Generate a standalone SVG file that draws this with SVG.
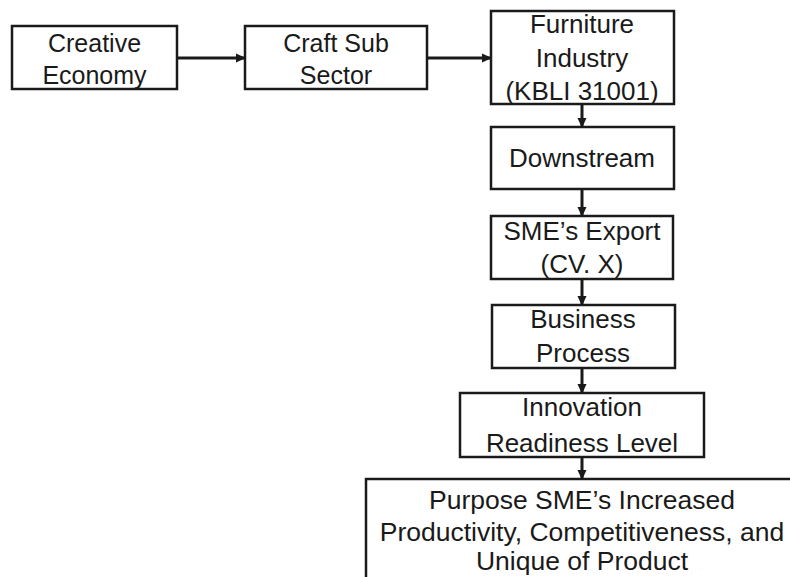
<svg xmlns="http://www.w3.org/2000/svg" width="790" height="577" viewBox="0 0 790 577">
<defs>
<style>
.box{fill:#fff;stroke:#1a1a1a;stroke-width:2.5}
.t{font-family:"Liberation Sans",Arial,sans-serif;font-size:26px;fill:#1a1a1a;text-anchor:middle}
.s{font-size:25px}
.b{font-size:26.5px}
.c{stroke:#1a1a1a;stroke-width:3;fill:none;marker-end:url(#ah)}
</style>
<marker id="ah" markerWidth="10" markerHeight="10" refX="9" refY="5" orient="auto" markerUnits="userSpaceOnUse">
<path d="M0,0.5 L10,5 L0,9.5 Z" fill="#1a1a1a"/>
</marker>
</defs>
<rect width="790" height="577" fill="#fff"/>
<g id="connectors">
<line class="c" x1="177" y1="58" x2="245" y2="58"/>
<line class="c" x1="427" y1="58" x2="491" y2="58"/>
<line class="c" x1="582" y1="104" x2="582" y2="127"/>
<line class="c" x1="582" y1="189" x2="582" y2="216"/>
<line class="c" x1="582" y1="279" x2="582" y2="305"/>
<line class="c" x1="582" y1="368" x2="582" y2="393"/>
<line class="c" x1="582" y1="457" x2="582" y2="479"/>
</g>
<g id="n1">
<rect class="box" x="12" y="26" width="165" height="63"/>
<text class="t s" x="94.5" y="52">Creative</text>
<text class="t s" x="94.5" y="84">Economy</text>
</g>
<g id="n2">
<rect class="box" x="245" y="26" width="182" height="63"/>
<text class="t s" x="336" y="52">Craft Sub</text>
<text class="t s" x="336" y="84">Sector</text>
</g>
<g id="n3">
<rect class="box" x="491" y="11" width="183" height="93"/>
<text class="t" x="582" y="33">Furniture</text>
<text class="t" x="582" y="67">Industry</text>
<text class="t" x="582" y="100">(KBLI 31001)</text>
</g>
<g id="n4">
<rect class="box" x="491" y="127" width="183" height="62"/>
<text class="t" x="582" y="167">Downstream</text>
</g>
<g id="n5">
<rect class="box" x="491" y="216" width="182" height="63"/>
<text class="t" x="582" y="240">SME’s Export</text>
<text class="t" x="582" y="273">(CV. X)</text>
</g>
<g id="n6">
<rect class="box" x="492" y="305" width="183" height="63"/>
<text class="t" x="583" y="328">Business</text>
<text class="t" x="583" y="362">Process</text>
</g>
<g id="n7">
<rect class="box" x="460" y="393" width="244" height="64"/>
<text class="t" x="582" y="416">Innovation</text>
<text class="t" x="582" y="452">Readiness Level</text>
</g>
<g id="n8">
<rect class="box" x="366" y="479" width="434" height="120"/>
<text class="t b" x="582" y="509">Purpose SME’s Increased</text>
<text class="t b" x="582" y="541">Productivity, Competitiveness, and</text>
<text class="t b" x="582" y="570">Unique of Product</text>
</g>
</svg>
